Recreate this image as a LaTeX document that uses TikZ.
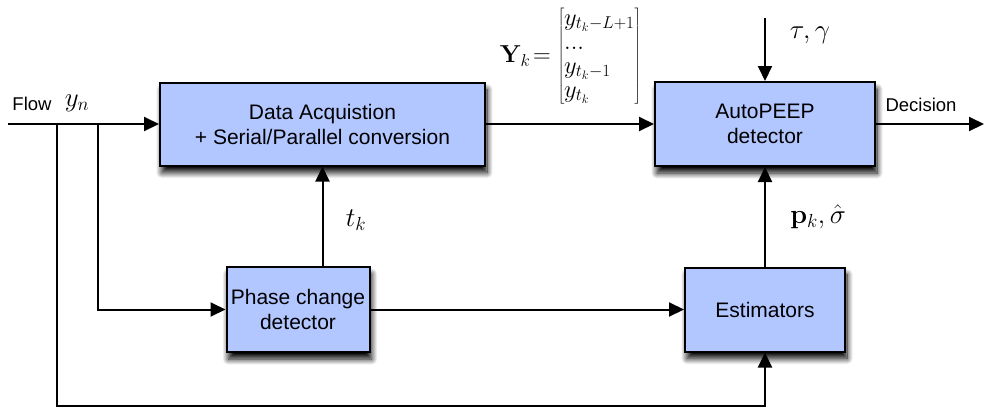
\RequirePackage{fix-cm}
\documentclass[tikz,border=0pt]{standalone}
\usepackage[no-math]{fontspec}
\setmainfont{Liberation Sans}
\usetikzlibrary{arrows.meta,shadows.blur}
\definecolor{boxblue}{RGB}{178,198,255}
\begin{document}
\begin{tikzpicture}[x=1pt,y=-1pt,
  block/.style={draw=black,line width=2pt,fill=boxblue,align=center,
    inner sep=0pt,font=\fontsize{21}{25}\selectfont,
    blur shadow={shadow xshift=2pt,shadow yshift=-7pt,shadow blur steps=12,shadow blur radius=6pt,shadow opacity=100}},
  wire/.style={line width=2pt},
  arr/.style={wire,-{Triangle[length=15pt,width=14pt]}},
  lbl/.style={font=\fontsize{18.5}{22}\selectfont},
  mth/.style={font=\fontsize{27}{30}\selectfont},
  vec/.style={font=\fontsize{24.5}{24}\selectfont}]
\useasboundingbox (0,0) rectangle (984,410);

% processing blocks
\node[block,minimum width=325pt,minimum height=83pt] (data) at (322.5,124)
  {Data Acquistion\\+ Serial/Parallel conversion};
\node[block,minimum width=220pt,minimum height=84pt] (auto) at (765,124)
  {AutoPEEP\\detector};
\node[block,minimum width=143pt,minimum height=85pt] (phase) at (298,309.5)
  {Phase change\\detector};
\node[block,minimum width=160pt,minimum height=84pt] (est) at (765,309.5)
  {Estimators};

% free ends and branch points
\coordinate (in) at (8,124);
\coordinate (b1) at (57,124);
\coordinate (b2) at (98,124);
\coordinate (bot) at (57,406);
\coordinate (tau) at (765,18);
\coordinate (dec) at (984,124);

% connectors
\draw[arr] (in) -- (data.west);
\draw[arr] (b2) |- (phase.west);
\draw[arr] (b1) -- (bot) -| (est.south);
\draw[arr] (phase.north -| data.south) -- (data.south);
\draw[arr] (phase.east) -- (est.west);
\draw[arr] (data.east) -- (auto.west);
\draw[arr] (tau) -- (auto.north);
\draw[arr] (est.north) -- (auto.south);
\draw[arr] (auto.east) -- (dec);

% labels
\node[lbl] (flow) at (32,104) {Flow};
\node[mth] (yn) at (77,103) {$y_n$};
\node[lbl] (decl) at (921,105) {Decision};
\node[mth] (tg) at (810,35) {$\tau,\gamma$};
\node[mth] (tk) at (356,220) {$t_k$};
\node[mth] (pk) at (818,217) {$\mathbf{p}_k,\hat{\sigma}$};
\node[vec,inner sep=0pt] (Yk) at (570.5,56.5)
  {$\mathbf{Y}_k\!=\left[\begin{array}{@{}l@{}}
    y_{t_k-L+1}\\ ...\\ y_{t_k-1}\\ y_{t_k}\end{array}\right]$};
\end{tikzpicture}
\end{document}
